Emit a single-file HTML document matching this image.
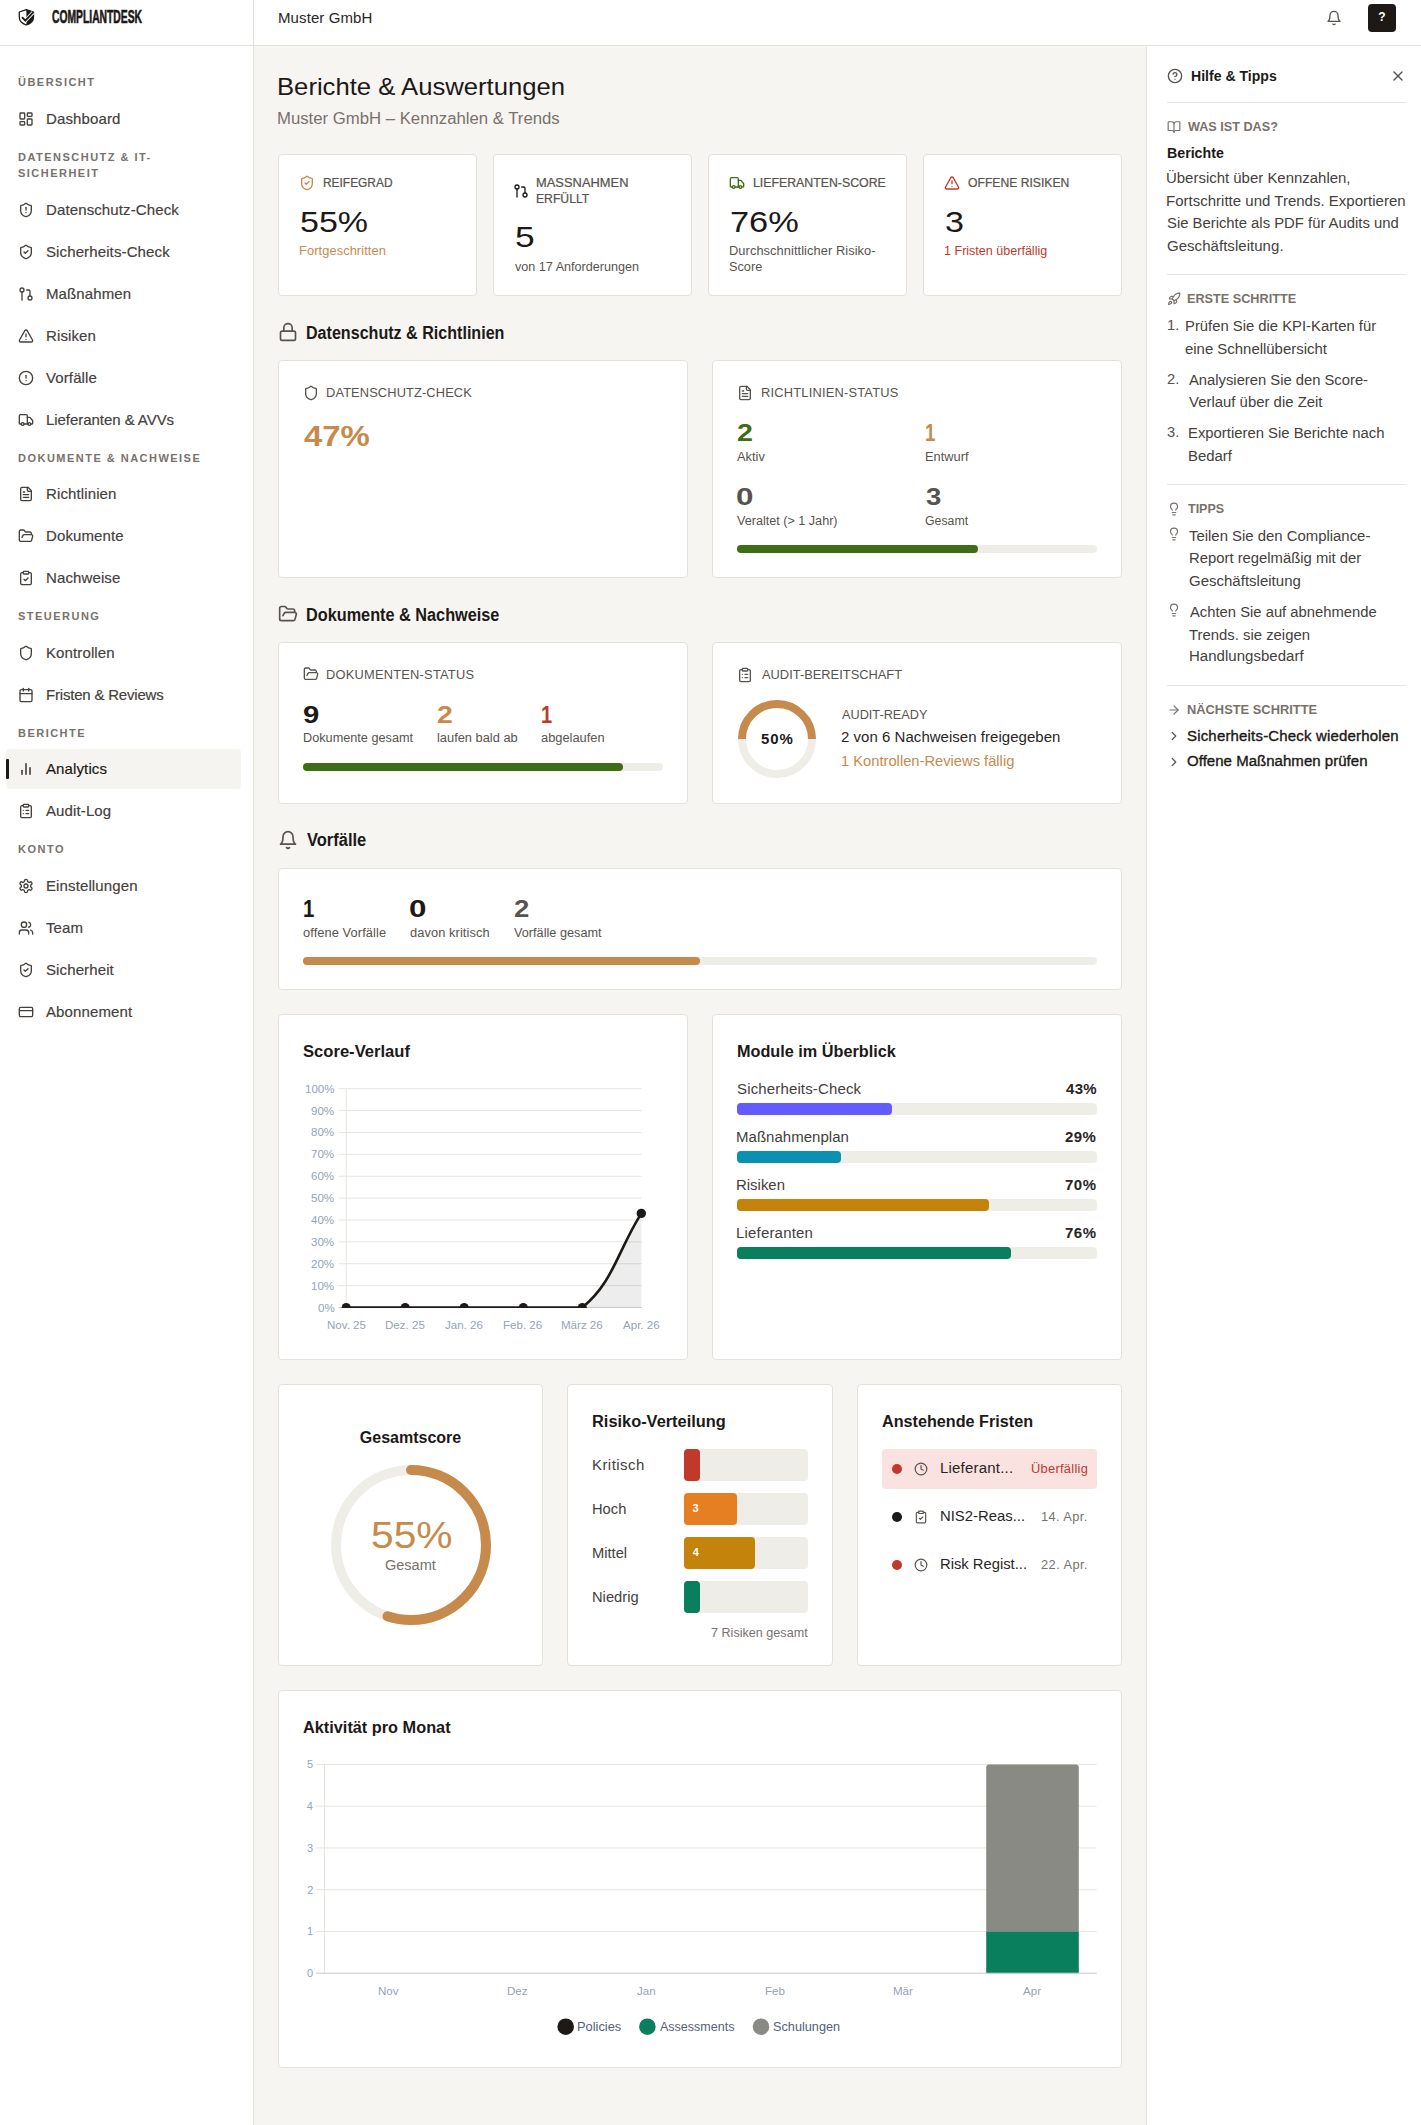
<!DOCTYPE html>
<html lang="de">
<head>
<meta charset="utf-8">
<title>Berichte &amp; Auswertungen – CompliantDesk</title>
<style>
*{box-sizing:border-box;margin:0;padding:0}
html,body{width:1421px;height:2125px;overflow:hidden;background:#fff}
body{font-family:"Liberation Sans",sans-serif;color:#1c1917;position:relative;-webkit-font-smoothing:antialiased}
svg{display:block}
.ico{fill:none;stroke:currentColor;stroke-width:2;stroke-linecap:round;stroke-linejoin:round}
.abs{position:absolute}
.t{position:absolute;white-space:nowrap;display:block;transform-origin:0 0}
/* sidebar */
#sidebar{position:absolute;left:0;top:0;width:254px;height:2125px;background:#fff;border-right:1px solid #e4e1db}
#brand{position:absolute;left:0;top:0;width:253px;height:46px;border-bottom:1px solid #e4e1db}
#brand svg{position:absolute;left:16px;top:7px}
#brand .name{position:absolute;left:52px;top:7px;font-weight:700;font-size:17.5px;line-height:20px;letter-spacing:0;color:#1c1917;transform:scaleX(.59);-webkit-text-stroke:.6px #1c1917;transform-origin:0 50%;white-space:nowrap}
.slabel{position:absolute;left:18px;width:220px;font-size:11px;line-height:16px;font-weight:700;letter-spacing:1.48px;color:#78716c;text-transform:uppercase}
.nav{position:absolute;left:6px;width:235px;height:40px;border-radius:4px;color:#44403c;font-size:15px}
.nav svg{position:absolute;left:12px;top:12px;width:16px;height:16px}
.nav span{position:absolute;left:40px;top:0;line-height:40px;white-space:nowrap;letter-spacing:.12px;-webkit-text-stroke:.18px currentColor}
.nav.active{background:#f6f4f0;color:#1c1917}
.nav.active:before{content:"";position:absolute;left:0;top:10px;width:3px;height:20px;background:#1c1917;border-radius:1px}
/* topbar */
#topbar{position:absolute;left:254px;top:0;width:1167px;height:46px;background:#fff;border-bottom:1px solid #e4e1db}
#topbar .org{position:absolute;left:24px;top:0;line-height:35px;font-size:15px;color:#292524;letter-spacing:.1px}
#topbar .bell{position:absolute;left:1072px;top:10px;width:16px;height:16px;color:#57534e}
#topbar .qbtn{position:absolute;left:1114px;top:4px;width:28px;height:28px;border-radius:4px;background:#1c1917;color:#fff;font-size:12px;font-weight:700;text-align:center;line-height:27px}
/* main */
#main{position:absolute;left:254px;top:46px;width:892px;height:2079px;background:#f7f5f2}
#help{position:absolute;left:1146px;top:46px;width:275px;height:2079px;background:#fff;border-left:1px solid #e4e1db}
.card{position:absolute;background:#fff;border:1px solid #e4e1db;border-radius:4px}
</style>
</head>
<body>
<div id="sidebar">
  <div id="brand">
    <svg width="20" height="20" viewBox="0 0 20 20"><path d="M10.400 2.700 3.300 5v5.300c0 3.900 2.900 6.400 7.100 7.700 4.200-1.300 7.100-3.800 7.100-7.700V5z" fill="#fff" stroke="#1c1917" stroke-width="1.300" stroke-linejoin="round"/><path d="M10.400 2.700V18c4.200-1.300 7.100-3.800 7.100-7.700V5z" fill="#1c1917"/><path d="m6 10.200 3.300 3.500 7.800-8.300" fill="none" stroke="#fff" stroke-width="3.600"/><path d="m6 10.200 3.300 3.500 7.800-8.300" fill="none" stroke="#1c1917" stroke-width="1.900"/></svg>
    <div class="name">COMPLIANTDESK</div>
  </div>
  <div class="slabel" style="top:74px">Übersicht</div>
  <div class="nav" style="top:99px"><svg class="ico" viewBox="0 0 24 24"><rect width="7" height="9" x="3" y="3" rx="1"/><rect width="7" height="5" x="14" y="3" rx="1"/><rect width="7" height="9" x="14" y="12" rx="1"/><rect width="7" height="5" x="3" y="16" rx="1"/></svg><span>Dashboard</span></div>
  <div class="slabel" style="top:149px">Datenschutz &amp; IT-<br>Sicherheit</div>
  <div class="nav" style="top:190px"><svg class="ico" viewBox="0 0 24 24"><path d="M20 13c0 5-3.500 7.500-7.660 8.950a1 1 0 0 1-.67-.01C7.500 20.500 4 18 4 13V6a1 1 0 0 1 1-1c2 0 4.500-1.200 6.240-2.720a1.170 1.170 0 0 1 1.520 0C14.510 3.810 17 5 19 5a1 1 0 0 1 1 1z"/><path d="M12 8v4"/><path d="M12 16h.01"/></svg><span>Datenschutz-Check</span></div>
  <div class="nav" style="top:232px"><svg class="ico" viewBox="0 0 24 24"><path d="M20 13c0 5-3.500 7.500-7.660 8.950a1 1 0 0 1-.67-.01C7.500 20.500 4 18 4 13V6a1 1 0 0 1 1-1c2 0 4.500-1.200 6.240-2.720a1.170 1.170 0 0 1 1.520 0C14.510 3.810 17 5 19 5a1 1 0 0 1 1 1z"/><path d="m9 12 2 2 4-4"/></svg><span>Sicherheits-Check</span></div>
  <div class="nav" style="top:274px"><svg class="ico" viewBox="0 0 24 24"><circle cx="18" cy="18" r="3"/><circle cx="6" cy="6" r="3"/><path d="M13 6h3a2 2 0 0 1 2 2v7"/><line x1="6" x2="6" y1="9" y2="21"/></svg><span>Maßnahmen</span></div>
  <div class="nav" style="top:316px"><svg class="ico" viewBox="0 0 24 24"><path d="m21.730 18-8-14a2 2 0 0 0-3.480 0l-8 14A2 2 0 0 0 4 21h16a2 2 0 0 0 1.730-3"/><path d="M12 9v4"/><path d="M12 17h.01"/></svg><span>Risiken</span></div>
  <div class="nav" style="top:358px"><svg class="ico" viewBox="0 0 24 24"><circle cx="12" cy="12" r="10"/><line x1="12" x2="12" y1="8" y2="12"/><line x1="12" x2="12.010" y1="16" y2="16"/></svg><span>Vorfälle</span></div>
  <div class="nav" style="top:400px"><svg class="ico" viewBox="0 0 24 24"><path d="M14 18V6a2 2 0 0 0-2-2H4a2 2 0 0 0-2 2v11a1 1 0 0 0 1 1h2"/><path d="M15 18H9"/><path d="M19 18h2a1 1 0 0 0 1-1v-3.650a1 1 0 0 0-.22-.624l-3.480-4.350A1 1 0 0 0 17.520 8H14"/><circle cx="17" cy="18" r="2"/><circle cx="7" cy="18" r="2"/></svg><span style="letter-spacing:-.05px">Lieferanten &amp; AVVs</span></div>
  <div class="slabel" style="top:450px">Dokumente &amp; Nachweise</div>
  <div class="nav" style="top:474px"><svg class="ico" viewBox="0 0 24 24"><path d="M15 2H6a2 2 0 0 0-2 2v16a2 2 0 0 0 2 2h12a2 2 0 0 0 2-2V7Z"/><path d="M14 2v4a2 2 0 0 0 2 2h4"/><path d="M10 9H8"/><path d="M16 13H8"/><path d="M16 17H8"/></svg><span>Richtlinien</span></div>
  <div class="nav" style="top:516px"><svg class="ico" viewBox="0 0 24 24"><path d="m6 14 1.500-2.900A2 2 0 0 1 9.240 10H20a2 2 0 0 1 1.940 2.500l-1.540 6a2 2 0 0 1-1.950 1.500H4a2 2 0 0 1-2-2V5a2 2 0 0 1 2-2h3.900a2 2 0 0 1 1.690.9l.810 1.200a2 2 0 0 0 1.670.9H18a2 2 0 0 1 2 2v2"/></svg><span>Dokumente</span></div>
  <div class="nav" style="top:558px"><svg class="ico" viewBox="0 0 24 24"><rect width="8" height="4" x="8" y="2" rx="1" ry="1"/><path d="M16 4h2a2 2 0 0 1 2 2v14a2 2 0 0 1-2 2H6a2 2 0 0 1-2-2V6a2 2 0 0 1 2-2h2"/><path d="m9 14 2 2 4-4"/></svg><span>Nachweise</span></div>
  <div class="slabel" style="top:608px">Steuerung</div>
  <div class="nav" style="top:633px"><svg class="ico" viewBox="0 0 24 24"><path d="M20 13c0 5-3.500 7.500-7.660 8.950a1 1 0 0 1-.67-.01C7.500 20.500 4 18 4 13V6a1 1 0 0 1 1-1c2 0 4.500-1.200 6.240-2.720a1.170 1.170 0 0 1 1.520 0C14.510 3.810 17 5 19 5a1 1 0 0 1 1 1z"/></svg><span>Kontrollen</span></div>
  <div class="nav" style="top:675px"><svg class="ico" viewBox="0 0 24 24"><path d="M8 2v4"/><path d="M16 2v4"/><rect width="18" height="18" x="3" y="4" rx="2"/><path d="M3 10h18"/></svg><span style="letter-spacing:-.2px">Fristen &amp; Reviews</span></div>
  <div class="slabel" style="top:725px">Berichte</div>
  <div class="nav active" style="top:749px"><svg class="ico" viewBox="0 0 24 24"><line x1="18" x2="18" y1="20" y2="10"/><line x1="12" x2="12" y1="20" y2="4"/><line x1="6" x2="6" y1="20" y2="14"/></svg><span>Analytics</span></div>
  <div class="nav" style="top:791px"><svg class="ico" viewBox="0 0 24 24"><rect width="8" height="4" x="8" y="2" rx="1" ry="1"/><path d="M16 4h2a2 2 0 0 1 2 2v14a2 2 0 0 1-2 2H6a2 2 0 0 1-2-2V6a2 2 0 0 1 2-2h2"/><path d="M12 11h4"/><path d="M12 16h4"/><path d="M8 11h.01"/><path d="M8 16h.01"/></svg><span>Audit-Log</span></div>
  <div class="slabel" style="top:841px">Konto</div>
  <div class="nav" style="top:866px"><svg class="ico" viewBox="0 0 24 24"><path d="M12.220 2h-.44a2 2 0 0 0-2 2v.18a2 2 0 0 1-1 1.730l-.43.250a2 2 0 0 1-2 0l-.15-.08a2 2 0 0 0-2.730.730l-.22.380a2 2 0 0 0 .73 2.730l.15.100a2 2 0 0 1 1 1.720v.510a2 2 0 0 1-1 1.740l-.15.090a2 2 0 0 0-.73 2.730l.22.380a2 2 0 0 0 2.730.730l.15-.08a2 2 0 0 1 2 0l.43.250a2 2 0 0 1 1 1.730V20a2 2 0 0 0 2 2h.44a2 2 0 0 0 2-2v-.18a2 2 0 0 1 1-1.730l.43-.250a2 2 0 0 1 2 0l.15.080a2 2 0 0 0 2.730-.730l.22-.390a2 2 0 0 0-.73-2.730l-.15-.080a2 2 0 0 1-1-1.740v-.5a2 2 0 0 1 1-1.740l.15-.090a2 2 0 0 0 .73-2.730l-.22-.380a2 2 0 0 0-2.730-.730l-.15.080a2 2 0 0 1-2 0l-.43-.250a2 2 0 0 1-1-1.730V4a2 2 0 0 0-2-2z"/><circle cx="12" cy="12" r="3"/></svg><span>Einstellungen</span></div>
  <div class="nav" style="top:908px"><svg class="ico" viewBox="0 0 24 24"><path d="M16 21v-2a4 4 0 0 0-4-4H6a4 4 0 0 0-4 4v2"/><circle cx="9" cy="7" r="4"/><path d="M22 21v-2a4 4 0 0 0-3-3.870"/><path d="M16 3.130a4 4 0 0 1 0 7.750"/></svg><span>Team</span></div>
  <div class="nav" style="top:950px"><svg class="ico" viewBox="0 0 24 24"><path d="M20 13c0 5-3.500 7.500-7.660 8.950a1 1 0 0 1-.67-.01C7.500 20.500 4 18 4 13V6a1 1 0 0 1 1-1c2 0 4.500-1.200 6.240-2.720a1.170 1.170 0 0 1 1.520 0C14.510 3.810 17 5 19 5a1 1 0 0 1 1 1z"/><path d="m9 12 2 2 4-4"/></svg><span>Sicherheit</span></div>
  <div class="nav" style="top:992px"><svg class="ico" viewBox="0 0 24 24"><rect width="20" height="14" x="2" y="5" rx="2"/><line x1="2" x2="22" y1="10" y2="10"/></svg><span>Abonnement</span></div>
</div>
<div id="topbar">
  <div class="org">Muster GmbH</div>
  <svg class="ico bell" viewBox="0 0 24 24" stroke-width="1.600"><path d="M6 8a6 6 0 0 1 12 0c0 7 3 9 3 9H3s3-2 3-9"/><path d="M10.300 21a1.940 1.940 0 0 0 3.400 0"/></svg>
  <div class="qbtn">?</div>
</div>
<div id="main">
<span class="t" style="left:22.55px;top:26.80px;font-size:24px;line-height:27px;color:#1c1917;transform:scaleX(1.0690);">Berichte &amp; Auswertungen</span>
<span class="t" style="left:23.26px;top:64.20px;font-size:16px;line-height:17px;color:#78716c;transform:scaleX(1.0455);">Muster GmbH – Kennzahlen &amp; Trends</span>
<div class="card" style="left:24px;top:108px;width:199px;height:142px"><svg class="ico abs" style="left:20px;top:20px;color:#c68a4c" width="16" height="16" viewBox="0 0 24 24" stroke-width="2"><path d="M20 13c0 5-3.500 7.500-7.660 8.950a1 1 0 0 1-.67-.01C7.500 20.500 4 18 4 13V6a1 1 0 0 1 1-1c2 0 4.500-1.200 6.240-2.720a1.170 1.170 0 0 1 1.520 0C14.510 3.810 17 5 19 5a1 1 0 0 1 1 1z"/><path d="m9 12 2 2 4-4"/></svg><span class="t" style="left:43.65px;top:20.80px;font-size:12px;line-height:14px;color:#57534e;transform:scaleX(0.9933);-webkit-text-stroke:.22px #57534e">REIFEGRAD</span><span class="t" style="left:21.44px;top:49.80px;font-size:30px;line-height:33px;color:#1c1917;transform:scaleX(1.1325);">55%</span><span class="t" style="left:19.97px;top:88.60px;font-size:12px;line-height:14px;color:#c68a4c;letter-spacing:0.081px;transform:scaleX(1.0700);">Fortgeschritten</span></div>
<div class="card" style="left:239px;top:108px;width:199px;height:142px"><svg class="ico abs" style="left:19px;top:28px;color:#1c1917" width="16" height="16" viewBox="0 0 24 24" stroke-width="2"><circle cx="18" cy="18" r="3"/><circle cx="6" cy="6" r="3"/><path d="M13 6h3a2 2 0 0 1 2 2v7"/><line x1="6" x2="6" y1="9" y2="21"/></svg><span class="t" style="left:42.17px;top:20.80px;font-size:12px;line-height:14px;color:#57534e;letter-spacing:0.047px;transform:scaleX(1.0700);-webkit-text-stroke:.22px #57534e">MASSNAHMEN</span><span class="t" style="left:42.23px;top:36.70px;font-size:12px;line-height:14px;color:#57534e;transform:scaleX(1.0148);-webkit-text-stroke:.22px #57534e">ERFÜLLT</span><span class="t" style="left:21.39px;top:65.30px;font-size:30px;line-height:33px;color:#1c1917;transform:scaleX(1.1789);">5</span><span class="t" style="left:20.74px;top:104.60px;font-size:12px;line-height:14px;color:#57534e;transform:scaleX(1.0500);">von 17 Anforderungen</span></div>
<div class="card" style="left:454px;top:108px;width:199px;height:142px"><svg class="ico abs" style="left:20px;top:20px;color:#3e6d16" width="16" height="16" viewBox="0 0 24 24" stroke-width="2"><path d="M14 18V6a2 2 0 0 0-2-2H4a2 2 0 0 0-2 2v11a1 1 0 0 0 1 1h2"/><path d="M15 18H9"/><path d="M19 18h2a1 1 0 0 0 1-1v-3.650a1 1 0 0 0-.22-.624l-3.480-4.350A1 1 0 0 0 17.520 8H14"/><circle cx="17" cy="18" r="2"/><circle cx="7" cy="18" r="2"/></svg><span class="t" style="left:43.61px;top:20.80px;font-size:12px;line-height:14px;color:#57534e;transform:scaleX(1.0264);-webkit-text-stroke:.22px #57534e">LIEFERANTEN-SCORE</span><span class="t" style="left:20.68px;top:49.80px;font-size:30px;line-height:33px;color:#1c1917;transform:scaleX(1.1453);">76%</span><span class="t" style="left:19.57px;top:88.60px;font-size:12px;line-height:14px;color:#57534e;letter-spacing:0.064px;transform:scaleX(1.0700);">Durchschnittlicher Risiko-</span><span class="t" style="left:20.03px;top:104.60px;font-size:12px;line-height:14px;color:#57534e;transform:scaleX(1.0594);">Score</span></div>
<div class="card" style="left:669px;top:108px;width:199px;height:142px"><svg class="ico abs" style="left:20px;top:20px;color:#c0392b" width="16" height="16" viewBox="0 0 24 24" stroke-width="2"><path d="m21.730 18-8-14a2 2 0 0 0-3.480 0l-8 14A2 2 0 0 0 4 21h16a2 2 0 0 0 1.730-3"/><path d="M12 9v4"/><path d="M12 17h.01"/></svg><span class="t" style="left:43.85px;top:20.80px;font-size:12px;line-height:14px;color:#57534e;transform:scaleX(1.0130);-webkit-text-stroke:.22px #57534e">OFFENE RISIKEN</span><span class="t" style="left:21.44px;top:49.80px;font-size:30px;line-height:33px;color:#1c1917;transform:scaleX(1.1368);">3</span><span class="t" style="left:20.26px;top:88.60px;font-size:12px;line-height:14px;color:#bd3b2c;transform:scaleX(1.0455);">1 Fristen überfällig</span></div>
<svg class="ico abs" style="left:24px;top:276px;color:#57534e" width="20" height="20" viewBox="0 0 24 24" stroke-width="1.5"><rect width="18" height="11" x="3" y="11" rx="2" ry="2"/><path d="M7 11V7a5 5 0 0 1 10 0v4"/></svg>
<span class="t" style="left:51.55px;top:276.60px;font-size:17.5px;line-height:20px;color:#1c1917;font-weight:700;transform:scaleX(0.9192);">Datenschutz &amp; Richtlinien</span>
<div class="card" style="left:24px;top:314px;width:410px;height:218px"><svg class="ico abs" style="left:24px;top:24px;color:#57534e" width="16" height="16" viewBox="0 0 24 24" stroke-width="2"><path d="M20 13c0 5-3.500 7.500-7.660 8.950a1 1 0 0 1-.67-.01C7.500 20.500 4 18 4 13V6a1 1 0 0 1 1-1c2 0 4.500-1.200 6.240-2.720a1.170 1.170 0 0 1 1.520 0C14.510 3.810 17 5 19 5a1 1 0 0 1 1 1z"/></svg><span class="t" style="left:47.47px;top:24.70px;font-size:12px;line-height:14px;color:#57534e;letter-spacing:0.114px;transform:scaleX(1.0700);">DATENSCHUTZ-CHECK</span><span class="t" style="left:24.81px;top:57.90px;font-size:30px;line-height:33px;color:#c68a4c;font-weight:700;transform:scaleX(1.0969);">47%</span></div>
<div class="card" style="left:458px;top:314px;width:410px;height:218px"><svg class="ico abs" style="left:24px;top:24px;color:#57534e" width="16" height="16" viewBox="0 0 24 24" stroke-width="2"><path d="M15 2H6a2 2 0 0 0-2 2v16a2 2 0 0 0 2 2h12a2 2 0 0 0 2-2V7Z"/><path d="M14 2v4a2 2 0 0 0 2 2h4"/><path d="M10 9H8"/><path d="M16 13H8"/><path d="M16 17H8"/></svg><span class="t" style="left:47.67px;top:24.70px;font-size:12px;line-height:14px;color:#57534e;letter-spacing:0.198px;transform:scaleX(1.0700);">RICHTLINIEN-STATUS</span><span class="t" style="left:23.60px;top:57.60px;font-size:24px;line-height:27px;color:#3e6d16;font-weight:700;transform:scaleX(1.1892);">2</span><span class="t" style="left:24.30px;top:88.70px;font-size:12px;line-height:14px;color:#57534e;transform:scaleX(1.0687);">Aktiv</span><span class="t" style="left:212.48px;top:57.60px;font-size:24px;line-height:27px;color:#c68a4c;font-weight:700;transform:scaleX(0.7801);">1</span><span class="t" style="left:212.17px;top:88.70px;font-size:12px;line-height:14px;color:#57534e;transform:scaleX(1.0700);">Entwurf</span><span class="t" style="left:23.35px;top:121.60px;font-size:24px;line-height:27px;color:#57534e;font-weight:700;transform:scaleX(1.3070);">0</span><span class="t" style="left:24.24px;top:152.80px;font-size:12px;line-height:14px;color:#57534e;transform:scaleX(1.0504);">Veraltet (&gt; 1 Jahr)</span><span class="t" style="left:212.71px;top:121.60px;font-size:24px;line-height:27px;color:#57534e;font-weight:700;transform:scaleX(1.1448);">3</span><span class="t" style="left:211.98px;top:152.80px;font-size:12px;line-height:14px;color:#57534e;transform:scaleX(1.0256);">Gesamt</span><div class="abs" style="left:24px;top:184px;width:360px;height:8px;background:#efede8;border-radius:4.0px"><div style="width:241px;height:8px;background:#3e6d16;border-radius:4.0px"></div></div></div>
<svg class="ico abs" style="left:24px;top:558px;color:#57534e" width="20" height="20" viewBox="0 0 24 24" stroke-width="1.5"><path d="m6 14 1.500-2.900A2 2 0 0 1 9.240 10H20a2 2 0 0 1 1.940 2.500l-1.540 6a2 2 0 0 1-1.950 1.500H4a2 2 0 0 1-2-2V5a2 2 0 0 1 2-2h3.900a2 2 0 0 1 1.690.9l.810 1.200a2 2 0 0 0 1.670.9H18a2 2 0 0 1 2 2v2"/></svg>
<span class="t" style="left:51.54px;top:558.60px;font-size:17.5px;line-height:20px;color:#1c1917;font-weight:700;transform:scaleX(0.9292);">Dokumente &amp; Nachweise</span>
<div class="card" style="left:24px;top:596px;width:410px;height:162px"><svg class="ico abs" style="left:24px;top:23px;color:#57534e" width="16" height="16" viewBox="0 0 24 24" stroke-width="2"><path d="m6 14 1.500-2.900A2 2 0 0 1 9.240 10H20a2 2 0 0 1 1.940 2.500l-1.540 6a2 2 0 0 1-1.950 1.500H4a2 2 0 0 1-2-2V5a2 2 0 0 1 2-2h3.900a2 2 0 0 1 1.690.9l.810 1.200a2 2 0 0 0 1.670.9H18a2 2 0 0 1 2 2v2"/></svg><span class="t" style="left:47.47px;top:24.70px;font-size:12px;line-height:14px;color:#57534e;letter-spacing:0.215px;transform:scaleX(1.0700);">DOKUMENTEN-STATUS</span><span class="t" style="left:23.58px;top:57.60px;font-size:24px;line-height:27px;color:#1c1917;font-weight:700;transform:scaleX(1.2199);">9</span><span class="t" style="left:23.78px;top:88.40px;font-size:12px;line-height:14px;color:#57534e;transform:scaleX(1.0580);">Dokumente gesamt</span><span class="t" style="left:158.01px;top:57.60px;font-size:24px;line-height:27px;color:#c68a4c;font-weight:700;transform:scaleX(1.1806);">2</span><span class="t" style="left:158.07px;top:88.40px;font-size:12px;line-height:14px;color:#57534e;transform:scaleX(1.0700);">laufen bald ab</span><span class="t" style="left:262.40px;top:57.60px;font-size:24px;line-height:27px;color:#bd3b2c;font-weight:700;transform:scaleX(0.8333);">1</span><span class="t" style="left:262.49px;top:88.40px;font-size:12px;line-height:14px;color:#57534e;letter-spacing:0.009px;transform:scaleX(1.0700);">abgelaufen</span><div class="abs" style="left:24px;top:120px;width:360px;height:8px;background:#efede8;border-radius:4.0px"><div style="width:320px;height:8px;background:#3e6d16;border-radius:4.0px"></div></div></div>
<div class="card" style="left:458px;top:596px;width:410px;height:162px"><svg class="ico abs" style="left:24px;top:24px;color:#57534e" width="16" height="16" viewBox="0 0 24 24" stroke-width="2"><rect width="8" height="4" x="8" y="2" rx="1" ry="1"/><path d="M16 4h2a2 2 0 0 1 2 2v14a2 2 0 0 1-2 2H6a2 2 0 0 1-2-2V6a2 2 0 0 1 2-2h2"/><path d="M12 11h4"/><path d="M12 16h4"/><path d="M8 11h.01"/><path d="M8 16h.01"/></svg><span class="t" style="left:48.70px;top:24.70px;font-size:12px;line-height:14px;color:#57534e;letter-spacing:0.013px;transform:scaleX(1.0700);">AUDIT-BEREITSCHAFT</span><svg class="abs" style="left:24px;top:56px" width="80" height="80" viewBox="0 0 80 80"><circle cx="40" cy="40" r="35" fill="none" stroke="#efede8" stroke-width="8"/><path d="M5 40A35 35 0 0 1 75 40" fill="none" stroke="#c68a4c" stroke-width="8"/></svg><span class="t" style="left:47.95px;top:87.90px;font-size:14px;line-height:16px;color:#1c1917;font-weight:700;letter-spacing:0.824px;transform:scaleX(1.0700);">50%</span><span class="t" style="left:128.80px;top:65.00px;font-size:12px;line-height:14px;color:#57534e;transform:scaleX(1.0585);">AUDIT-READY</span><span class="t" style="left:127.85px;top:86.00px;font-size:14px;line-height:16px;color:#292524;letter-spacing:0.037px;transform:scaleX(1.0700);">2 von 6 Nachweisen freigegeben</span><span class="t" style="left:128.10px;top:110.20px;font-size:14px;line-height:16px;color:#c68a4c;transform:scaleX(1.0507);">1 Kontrollen-Reviews fällig</span></div>
<svg class="ico abs" style="left:24px;top:784px;color:#57534e" width="20" height="20" viewBox="0 0 24 24" stroke-width="1.5"><path d="M6 8a6 6 0 0 1 12 0c0 7 3 9 3 9H3s3-2 3-9"/><path d="M10.300 21a1.940 1.940 0 0 0 3.400 0"/></svg>
<span class="t" style="left:52.82px;top:784.30px;font-size:17.5px;line-height:20px;color:#1c1917;font-weight:700;transform:scaleX(0.9422);">Vorfälle</span>
<div class="card" style="left:24px;top:822px;width:844px;height:122px"><span class="t" style="left:23.77px;top:26.00px;font-size:24px;line-height:27px;color:#1c1917;font-weight:700;transform:scaleX(0.8511);">1</span><span class="t" style="left:24.09px;top:57.00px;font-size:12px;line-height:14px;color:#57534e;letter-spacing:0.078px;transform:scaleX(1.0700);">offene Vorfälle</span><span class="t" style="left:130.35px;top:26.00px;font-size:24px;line-height:27px;color:#1c1917;font-weight:700;transform:scaleX(1.3070);">0</span><span class="t" style="left:131.29px;top:57.00px;font-size:12px;line-height:14px;color:#57534e;letter-spacing:0.074px;transform:scaleX(1.0700);">davon kritisch</span><span class="t" style="left:234.64px;top:26.00px;font-size:24px;line-height:27px;color:#57534e;font-weight:700;transform:scaleX(1.1458);">2</span><span class="t" style="left:235.14px;top:57.00px;font-size:12px;line-height:14px;color:#57534e;transform:scaleX(1.0586);">Vorfälle gesamt</span><div class="abs" style="left:24px;top:88px;width:794px;height:8px;background:#efede8;border-radius:4.0px"><div style="width:397px;height:8px;background:#c68a4c;border-radius:4.0px"></div></div></div>
<div class="card" style="left:24px;top:968px;width:410px;height:346px"><span class="t" style="left:24.10px;top:28.00px;font-size:16px;line-height:17px;color:#1c1917;font-weight:700;transform:scaleX(1.0368);">Score-Verlauf</span><svg class="abs" style="left:0;top:0" width="408" height="344" viewBox="279 1015 408 344"><line x1="338.7" x2="641.5" y1="1307.50" y2="1307.50" stroke="#e7e5df" stroke-width="1"/><line x1="338.7" x2="641.5" y1="1285.62" y2="1285.62" stroke="#e7e5df" stroke-width="1"/><line x1="338.7" x2="641.5" y1="1263.74" y2="1263.74" stroke="#e7e5df" stroke-width="1"/><line x1="338.7" x2="641.5" y1="1241.86" y2="1241.86" stroke="#e7e5df" stroke-width="1"/><line x1="338.7" x2="641.5" y1="1219.98" y2="1219.98" stroke="#e7e5df" stroke-width="1"/><line x1="338.7" x2="641.5" y1="1198.10" y2="1198.10" stroke="#e7e5df" stroke-width="1"/><line x1="338.7" x2="641.5" y1="1176.22" y2="1176.22" stroke="#e7e5df" stroke-width="1"/><line x1="338.7" x2="641.5" y1="1154.34" y2="1154.34" stroke="#e7e5df" stroke-width="1"/><line x1="338.7" x2="641.5" y1="1132.46" y2="1132.46" stroke="#e7e5df" stroke-width="1"/><line x1="338.7" x2="641.5" y1="1110.58" y2="1110.58" stroke="#e7e5df" stroke-width="1"/><line x1="338.7" x2="641.5" y1="1088.70" y2="1088.70" stroke="#e7e5df" stroke-width="1"/><line x1="346.2" x2="346.2" y1="1088.7" y2="1307.5" stroke="#e7e5df" stroke-width="1"/><path d="M582.3 1307.5C612.9 1282.9 617.6 1251 641.3 1213.4V1307.5Z" fill="#1c1917" fill-opacity=".08"/><line x1="338.7" x2="641.5" y1="1307.5" y2="1307.5" stroke="#c9c7c2" stroke-width="1"/><clipPath id="cp1"><rect x="330" y="1080" width="330" height="228.1"/></clipPath><g clip-path="url(#cp1)"><path d="M346.2 1307.5H582.3C612.9 1282.9 617.6 1251 641.3 1213.4" fill="none" stroke="#1c1917" stroke-width="2.600" stroke-linecap="round"/><circle cx="346.2" cy="1307.5" r="4.500" fill="#1c1917"/><circle cx="405.2" cy="1307.5" r="4.500" fill="#1c1917"/><circle cx="464.2" cy="1307.5" r="4.500" fill="#1c1917"/><circle cx="523.3" cy="1307.5" r="4.500" fill="#1c1917"/><circle cx="582.3" cy="1307.5" r="4.500" fill="#1c1917"/></g><circle cx="641.3" cy="1213.4" r="4.700" fill="#1c1917"/></svg><span class="t" style="left:38.81px;top:286.50px;font-size:11px;line-height:12px;color:#94a3b8;transform:scaleX(1.0500);">0%</span><span class="t" style="left:32.40px;top:264.62px;font-size:11px;line-height:12px;color:#94a3b8;transform:scaleX(1.0500);">10%</span><span class="t" style="left:32.40px;top:242.74px;font-size:11px;line-height:12px;color:#94a3b8;transform:scaleX(1.0500);">20%</span><span class="t" style="left:32.40px;top:220.86px;font-size:11px;line-height:12px;color:#94a3b8;transform:scaleX(1.0500);">30%</span><span class="t" style="left:32.40px;top:198.98px;font-size:11px;line-height:12px;color:#94a3b8;transform:scaleX(1.0500);">40%</span><span class="t" style="left:32.40px;top:177.10px;font-size:11px;line-height:12px;color:#94a3b8;transform:scaleX(1.0500);">50%</span><span class="t" style="left:32.40px;top:155.22px;font-size:11px;line-height:12px;color:#94a3b8;transform:scaleX(1.0500);">60%</span><span class="t" style="left:32.40px;top:133.34px;font-size:11px;line-height:12px;color:#94a3b8;transform:scaleX(1.0500);">70%</span><span class="t" style="left:32.40px;top:111.46px;font-size:11px;line-height:12px;color:#94a3b8;transform:scaleX(1.0500);">80%</span><span class="t" style="left:32.40px;top:89.58px;font-size:11px;line-height:12px;color:#94a3b8;transform:scaleX(1.0500);">90%</span><span class="t" style="left:25.94px;top:67.70px;font-size:11px;line-height:12px;color:#94a3b8;transform:scaleX(1.0500);">100%</span><span class="t" style="left:47.51px;top:303.70px;font-size:11px;line-height:12px;color:#94a3b8;transform:scaleX(1.0500);">Nov. 25</span><span class="t" style="left:106.09px;top:303.70px;font-size:11px;line-height:12px;color:#94a3b8;transform:scaleX(1.0500);">Dez. 25</span><span class="t" style="left:166.44px;top:303.70px;font-size:11px;line-height:12px;color:#94a3b8;transform:scaleX(1.0500);">Jan. 26</span><span class="t" style="left:224.45px;top:303.70px;font-size:11px;line-height:12px;color:#94a3b8;transform:scaleX(1.0500);">Feb. 26</span><span class="t" style="left:282.20px;top:303.70px;font-size:11px;line-height:12px;color:#94a3b8;transform:scaleX(1.0500);">März 26</span><span class="t" style="left:344.22px;top:303.70px;font-size:11px;line-height:12px;color:#94a3b8;transform:scaleX(1.0500);">Apr. 26</span></div>
<div class="card" style="left:458px;top:968px;width:410px;height:346px"><span class="t" style="left:23.74px;top:28.00px;font-size:16px;line-height:17px;color:#1c1917;font-weight:700;transform:scaleX(1.0145);">Module im Überblick</span><span class="t" style="left:23.93px;top:65.70px;font-size:14px;line-height:16px;color:#44403c;letter-spacing:0.147px;transform:scaleX(1.0700);">Sicherheits-Check</span><span class="t" style="left:352.58px;top:65.70px;font-size:14px;line-height:16px;color:#292524;font-weight:700;letter-spacing:0.299px;transform:scaleX(1.0700);">43%</span><div class="abs" style="left:24px;top:88px;width:360px;height:12px;background:#efede8;border-radius:4px"><div style="width:155px;height:12px;background:#635bff;border-radius:4px"></div></div><span class="t" style="left:23.40px;top:113.70px;font-size:14px;line-height:16px;color:#44403c;letter-spacing:0.035px;transform:scaleX(1.0700);">Maßnahmenplan</span><span class="t" style="left:352.28px;top:113.70px;font-size:14px;line-height:16px;color:#292524;font-weight:700;letter-spacing:0.439px;transform:scaleX(1.0700);">29%</span><div class="abs" style="left:24px;top:136px;width:360px;height:12px;background:#efede8;border-radius:4px"><div style="width:104.4px;height:12px;background:#0a90b0;border-radius:4px"></div></div><span class="t" style="left:23.41px;top:161.70px;font-size:14px;line-height:16px;color:#44403c;transform:scaleX(1.0663);">Risiken</span><span class="t" style="left:352.20px;top:161.70px;font-size:14px;line-height:16px;color:#292524;font-weight:700;letter-spacing:0.474px;transform:scaleX(1.0700);">70%</span><div class="abs" style="left:24px;top:184px;width:360px;height:12px;background:#efede8;border-radius:4px"><div style="width:252px;height:12px;background:#c4830b;border-radius:4px"></div></div><span class="t" style="left:23.40px;top:209.70px;font-size:14px;line-height:16px;color:#44403c;letter-spacing:0.177px;transform:scaleX(1.0700);">Lieferanten</span><span class="t" style="left:352.20px;top:209.70px;font-size:14px;line-height:16px;color:#292524;font-weight:700;letter-spacing:0.474px;transform:scaleX(1.0700);">76%</span><div class="abs" style="left:24px;top:232px;width:360px;height:12px;background:#efede8;border-radius:4px"><div style="width:273.6px;height:12px;background:#0a7f5e;border-radius:4px"></div></div></div>
<div class="card" style="left:24px;top:1338px;width:265px;height:282px"><span class="t" style="left:80.84px;top:44.10px;font-size:16px;line-height:17px;color:#1c1917;font-weight:700;">Gesamtscore</span><svg class="abs" style="left:47px;top:74.8px" width="170" height="170" viewBox="-85 -85 170 170"><circle r="75" fill="none" stroke="#efede8" stroke-width="10"/><circle r="75" fill="none" stroke="#c68a4c" stroke-width="10" stroke-linecap="round" stroke-dasharray="259.2 471.2" transform="rotate(-90)"/></svg><span class="t" style="left:91.97px;top:129.80px;font-size:36px;line-height:41px;color:#c68a4c;transform:scaleX(1.1313);">55%</span><span class="t" style="left:106.07px;top:171.90px;font-size:14px;line-height:16px;color:#78716c;transform:scaleX(1.0367);">Gesamt</span></div>
<div class="card" style="left:313px;top:1338px;width:266px;height:282px"><span class="t" style="left:23.74px;top:27.50px;font-size:16px;line-height:17px;color:#1c1917;font-weight:700;transform:scaleX(1.0238);">Risiko-Verteilung</span><span class="t" style="left:23.60px;top:71.70px;font-size:14px;line-height:16px;color:#44403c;letter-spacing:0.416px;transform:scaleX(1.0700);">Kritisch</span><div class="abs" style="left:116px;top:64px;width:124px;height:32px;background:#efede8;border-radius:4px"><div style="width:16px;height:32px;background:#c0392b;border-radius:4px"></div></div><span class="t" style="left:23.62px;top:115.70px;font-size:14px;line-height:16px;color:#44403c;transform:scaleX(1.0500);">Hoch</span><div class="abs" style="left:116px;top:108px;width:124px;height:32px;background:#efede8;border-radius:4px"><div style="width:53px;height:32px;background:#e67e22;border-radius:4px"></div></div><span class="t" style="left:124.62px;top:117.40px;font-size:11px;line-height:12px;color:#fff;font-weight:700;">3</span><span class="t" style="left:23.62px;top:159.70px;font-size:14px;line-height:16px;color:#44403c;transform:scaleX(1.0500);">Mittel</span><div class="abs" style="left:116px;top:152px;width:124px;height:32px;background:#efede8;border-radius:4px"><div style="width:71px;height:32px;background:#c4830b;border-radius:4px"></div></div><span class="t" style="left:124.74px;top:161.40px;font-size:11px;line-height:12px;color:#fff;font-weight:700;">4</span><span class="t" style="left:23.62px;top:203.70px;font-size:14px;line-height:16px;color:#44403c;transform:scaleX(1.0500);">Niedrig</span><div class="abs" style="left:116px;top:196px;width:124px;height:32px;background:#efede8;border-radius:4px"><div style="width:16px;height:32px;background:#0a7f5e;border-radius:4px"></div></div><span class="t" style="left:143.08px;top:240.50px;font-size:12px;line-height:14px;color:#78716c;transform:scaleX(1.0500);">7 Risiken gesamt</span></div>
<div class="card" style="left:603px;top:1338px;width:265px;height:282px"><span class="t" style="left:24.00px;top:27.50px;font-size:16px;line-height:17px;color:#1c1917;font-weight:700;transform:scaleX(1.0115);">Anstehende Fristen</span><div class="abs" style="left:24px;top:64px;width:215px;height:40px;background:#f9e2e0;border-radius:4px;"></div><div class="abs" style="left:34px;top:79px;width:10px;height:10px;background:#c0392b;border-radius:5px;"></div><svg class="ico abs" style="left:56px;top:77px;color:#57534e" width="14" height="14" viewBox="0 0 24 24" stroke-width="1.75"><circle cx="12" cy="12" r="10"/><polyline points="12 6 12 12 16 14"/></svg><span class="t" style="left:81.60px;top:75.20px;font-size:14px;line-height:16px;color:#292524;letter-spacing:0.193px;transform:scaleX(1.0700);">Lieferant...</span><span class="t" style="left:172.64px;top:77.00px;font-size:12px;line-height:14px;color:#c0392b;letter-spacing:0.268px;transform:scaleX(1.0700);">Überfällig</span><div class="abs" style="left:34px;top:127px;width:10px;height:10px;background:#1c1917;border-radius:5px;"></div><svg class="ico abs" style="left:56px;top:125px;color:#57534e" width="14" height="14" viewBox="0 0 24 24" stroke-width="1.75"><rect width="8" height="4" x="8" y="2" rx="1" ry="1"/><path d="M16 4h2a2 2 0 0 1 2 2v14a2 2 0 0 1-2 2H6a2 2 0 0 1-2-2V6a2 2 0 0 1 2-2h2"/><path d="m9 14 2 2 4-4"/></svg><span class="t" style="left:81.61px;top:123.20px;font-size:14px;line-height:16px;color:#292524;transform:scaleX(1.0608);">NIS2-Reas...</span><span class="t" style="left:183.44px;top:125.00px;font-size:12px;line-height:14px;color:#78716c;letter-spacing:0.377px;transform:scaleX(1.0700);">14. Apr.</span><div class="abs" style="left:34px;top:175px;width:10px;height:10px;background:#c0392b;border-radius:5px;"></div><svg class="ico abs" style="left:56px;top:173px;color:#57534e" width="14" height="14" viewBox="0 0 24 24" stroke-width="1.75"><circle cx="12" cy="12" r="10"/><polyline points="12 6 12 12 16 14"/></svg><span class="t" style="left:81.62px;top:171.20px;font-size:14px;line-height:16px;color:#292524;transform:scaleX(1.0552);">Risk Regist...</span><span class="t" style="left:183.26px;top:173.00px;font-size:12px;line-height:14px;color:#78716c;letter-spacing:0.401px;transform:scaleX(1.0700);">22. Apr.</span></div>
<div class="card" style="left:24px;top:1644px;width:844px;height:378px"><span class="t" style="left:23.89px;top:28.30px;font-size:16px;line-height:17px;color:#1c1917;font-weight:700;transform:scaleX(1.0186);">Aktivität pro Monat</span><svg class="abs" style="left:0;top:0" width="842" height="376" viewBox="279 1691 842 376"><line x1="316" x2="1096.7" y1="1931.44" y2="1931.44" stroke="#e7e5df" stroke-width="1"/><line x1="316" x2="1096.7" y1="1889.68" y2="1889.68" stroke="#e7e5df" stroke-width="1"/><line x1="316" x2="1096.7" y1="1847.92" y2="1847.92" stroke="#e7e5df" stroke-width="1"/><line x1="316" x2="1096.7" y1="1806.16" y2="1806.16" stroke="#e7e5df" stroke-width="1"/><line x1="316" x2="1096.7" y1="1764.40" y2="1764.40" stroke="#e7e5df" stroke-width="1"/><line x1="324.5" x2="324.5" y1="1764.4" y2="1973.2" stroke="#e7e5df" stroke-width="1"/><path d="M986.2 1931.44V1767.4a3 3 0 0 1 3-3H1075.8a3 3 0 0 1 3 3V1931.44Z" fill="#8a8a85"/><rect x="986.2" y="1931.44" width="92.6" height="41.76" fill="#0a7f5e"/><line x1="316" x2="1096.7" y1="1973.2" y2="1973.2" stroke="#c9c9cc" stroke-width="1"/><circle cx="565.7" cy="2026.7" r="8.300" fill="#1c1917"/><circle cx="647.4" cy="2026.7" r="8.300" fill="#0a7f5e"/><circle cx="761" cy="2026.7" r="8.300" fill="#8a8a85"/></svg><span class="t" style="left:27.98px;top:276.20px;font-size:11px;line-height:12px;color:#94a3b8;">0</span><span class="t" style="left:28.09px;top:234.44px;font-size:11px;line-height:12px;color:#94a3b8;">1</span><span class="t" style="left:28.14px;top:192.68px;font-size:11px;line-height:12px;color:#94a3b8;">2</span><span class="t" style="left:28.03px;top:150.92px;font-size:11px;line-height:12px;color:#94a3b8;">3</span><span class="t" style="left:27.87px;top:109.16px;font-size:11px;line-height:12px;color:#94a3b8;">4</span><span class="t" style="left:28.03px;top:67.40px;font-size:11px;line-height:12px;color:#94a3b8;">5</span><span class="t" style="left:99.14px;top:293.70px;font-size:11px;line-height:12px;color:#94a3b8;transform:scaleX(1.0500);">Nov</span><span class="t" style="left:228.10px;top:293.70px;font-size:11px;line-height:12px;color:#94a3b8;transform:scaleX(1.0500);">Dez</span><span class="t" style="left:358.24px;top:293.70px;font-size:11px;line-height:12px;color:#94a3b8;transform:scaleX(1.0500);">Jan</span><span class="t" style="left:485.79px;top:293.70px;font-size:11px;line-height:12px;color:#94a3b8;transform:scaleX(1.0500);">Feb</span><span class="t" style="left:614.31px;top:293.70px;font-size:11px;line-height:12px;color:#94a3b8;transform:scaleX(1.0500);">Mär</span><span class="t" style="left:744.43px;top:293.70px;font-size:11px;line-height:12px;color:#94a3b8;transform:scaleX(1.0500);">Apr</span><span class="t" style="left:298.27px;top:328.50px;font-size:12px;line-height:14px;color:#55607a;transform:scaleX(1.0686);">Policies</span><span class="t" style="left:381.20px;top:328.50px;font-size:12px;line-height:14px;color:#55607a;transform:scaleX(1.0434);">Assessments</span><span class="t" style="left:494.23px;top:328.50px;font-size:12px;line-height:14px;color:#55607a;transform:scaleX(1.0590);">Schulungen</span></div>
</div>
<div id="help">
<svg class="ico abs" style="left:20px;top:22px;color:#57534e" width="16" height="16" viewBox="0 0 24 24" stroke-width="1.6"><circle cx="12" cy="12" r="10"/><path d="M9.090 9a3 3 0 0 1 5.830 1c0 2-3 3-3 3"/><path d="M12 17h.01"/></svg>
<span class="t" style="left:43.89px;top:22.10px;font-size:14.5px;line-height:16px;color:#1c1917;font-weight:700;transform:scaleX(0.9702);">Hilfe &amp; Tipps</span>
<svg class="ico abs" style="left:243px;top:22px;color:#57534e" width="16" height="16" viewBox="0 0 24 24" stroke-width="1.5"><path d="M18 6 6 18"/><path d="m6 6 12 12"/></svg>
<div class="abs" style="left:20px;top:56px;width:239px;height:1px;background:#e7e5e0;border-radius:0px;"></div>
<svg class="ico abs" style="left:20px;top:74px;color:#78716c" width="14" height="14" viewBox="0 0 24 24" stroke-width="2"><path d="M12 7v14"/><path d="M3 18a1 1 0 0 1-1-1V4a1 1 0 0 1 1-1h5a4 4 0 0 1 4 4 4 4 0 0 1 4-4h5a1 1 0 0 1 1 1v13a1 1 0 0 1-1 1h-6a3 3 0 0 0-3 3 3 3 0 0 0-3-3z"/></svg>
<span class="t" style="left:40.80px;top:73.70px;font-size:12px;line-height:14px;color:#78716c;font-weight:700;transform:scaleX(1.0536);">WAS IST DAS?</span>
<span class="t" style="left:19.68px;top:98.80px;font-size:14px;line-height:16px;color:#1c1917;font-weight:700;transform:scaleX(1.0134);">Berichte</span>
<span class="t" style="left:19.38px;top:123.80px;font-size:14px;line-height:16px;color:#44403c;transform:scaleX(1.0679);">Übersicht über Kennzahlen,</span>
<span class="t" style="left:19.40px;top:146.60px;font-size:14px;line-height:16px;color:#44403c;letter-spacing:0.017px;transform:scaleX(1.0700);">Fortschritte und Trends. Exportieren</span>
<span class="t" style="left:19.83px;top:169.40px;font-size:14px;line-height:16px;color:#44403c;transform:scaleX(1.0598);">Sie Berichte als PDF für Audits und</span>
<span class="t" style="left:19.75px;top:191.80px;font-size:14px;line-height:16px;color:#44403c;letter-spacing:0.047px;transform:scaleX(1.0700);">Geschäftsleitung.</span>
<div class="abs" style="left:20px;top:228px;width:239px;height:1px;background:#e7e5e0;border-radius:0px;"></div>
<svg class="ico abs" style="left:20px;top:246px;color:#78716c" width="14" height="14" viewBox="0 0 24 24" stroke-width="2"><path d="M4.500 16.500c-1.500 1.260-2 5-2 5s3.740-.5 5-2c.710-.840.700-2.130-.090-2.910a2.180 2.180 0 0 0-2.910-.090z"/><path d="m12 15-3-3a22 22 0 0 1 2-3.950A12.880 12.880 0 0 1 22 2c0 2.720-.780 7.500-6 11a22.350 22.350 0 0 1-4 2z"/><path d="M9 12H4s.550-3.030 2-4c1.620-1.080 5 0 5 0"/><path d="M12 15v5s3.030-.550 4-2c1.080-1.620 0-5 0-5"/></svg>
<span class="t" style="left:39.98px;top:245.70px;font-size:12px;line-height:14px;color:#78716c;font-weight:700;transform:scaleX(1.0556);">ERSTE SCHRITTE</span>
<span class="t" style="left:19.70px;top:271.20px;font-size:14px;line-height:16px;color:#57534e;transform:scaleX(1.0500);">1.</span>
<span class="t" style="left:37.71px;top:271.60px;font-size:14px;line-height:16px;color:#44403c;transform:scaleX(1.0587);">Prüfen Sie die KPI-Karten für</span>
<span class="t" style="left:38.10px;top:294.60px;font-size:14px;line-height:16px;color:#44403c;transform:scaleX(1.0661);">eine Schnellübersicht</span>
<span class="t" style="left:19.67px;top:325.20px;font-size:14px;line-height:16px;color:#57534e;transform:scaleX(1.0500);">2.</span>
<span class="t" style="left:41.60px;top:325.60px;font-size:14px;line-height:16px;color:#44403c;transform:scaleX(1.0553);">Analysieren Sie den Score-</span>
<span class="t" style="left:41.53px;top:348.00px;font-size:14px;line-height:16px;color:#44403c;transform:scaleX(1.0656);">Verlauf über die Zeit</span>
<span class="t" style="left:19.81px;top:378.20px;font-size:14px;line-height:16px;color:#57534e;transform:scaleX(1.0500);">3.</span>
<span class="t" style="left:40.61px;top:378.60px;font-size:14px;line-height:16px;color:#44403c;transform:scaleX(1.0612);">Exportieren Sie Berichte nach</span>
<span class="t" style="left:40.61px;top:401.50px;font-size:14px;line-height:16px;color:#44403c;transform:scaleX(1.0652);">Bedarf</span>
<div class="abs" style="left:20px;top:438px;width:239px;height:1px;background:#e7e5e0;border-radius:0px;"></div>
<svg class="ico abs" style="left:20px;top:456px;color:#78716c" width="14" height="14" viewBox="0 0 24 24" stroke-width="2"><path d="M15 14c.2-1 .7-1.700 1.500-2.500 1-.9 1.500-2.200 1.500-3.500A6 6 0 0 0 6 8c0 1 .2 2.200 1.500 3.500.7.700 1.300 1.500 1.500 2.500"/><path d="M9 18h6"/><path d="M10 22h4"/></svg>
<span class="t" style="left:40.67px;top:455.90px;font-size:12px;line-height:14px;color:#78716c;font-weight:700;transform:scaleX(1.0428);">TIPPS</span>
<svg class="ico abs" style="left:20px;top:481px;color:#78716c" width="14" height="14" viewBox="0 0 24 24" stroke-width="2"><path d="M15 14c.2-1 .7-1.700 1.500-2.500 1-.9 1.500-2.200 1.500-3.500A6 6 0 0 0 6 8c0 1 .2 2.200 1.500 3.500.7.700 1.300 1.500 1.500 2.500"/><path d="M9 18h6"/><path d="M10 22h4"/></svg>
<span class="t" style="left:42.30px;top:481.80px;font-size:14px;line-height:16px;color:#44403c;transform:scaleX(1.0641);">Teilen Sie den Compliance-</span>
<span class="t" style="left:41.61px;top:504.00px;font-size:14px;line-height:16px;color:#44403c;transform:scaleX(1.0592);">Report regelmäßig mit der</span>
<span class="t" style="left:41.85px;top:526.90px;font-size:14px;line-height:16px;color:#44403c;letter-spacing:0.015px;transform:scaleX(1.0700);">Geschäftsleitung</span>
<svg class="ico abs" style="left:20px;top:557px;color:#78716c" width="14" height="14" viewBox="0 0 24 24" stroke-width="2"><path d="M15 14c.2-1 .7-1.700 1.500-2.500 1-.9 1.500-2.200 1.500-3.500A6 6 0 0 0 6 8c0 1 .2 2.200 1.500 3.500.7.700 1.300 1.500 1.500 2.500"/><path d="M9 18h6"/><path d="M10 22h4"/></svg>
<span class="t" style="left:42.60px;top:557.90px;font-size:14px;line-height:16px;color:#44403c;transform:scaleX(1.0567);">Achten Sie auf abnehmende</span>
<span class="t" style="left:42.30px;top:580.70px;font-size:14px;line-height:16px;color:#44403c;transform:scaleX(1.0621);">Trends. sie zeigen</span>
<span class="t" style="left:41.60px;top:602.40px;font-size:14px;line-height:16px;color:#44403c;letter-spacing:0.037px;transform:scaleX(1.0700);">Handlungsbedarf</span>
<div class="abs" style="left:20px;top:639px;width:239px;height:1px;background:#e7e5e0;border-radius:0px;"></div>
<svg class="ico abs" style="left:20px;top:657px;color:#78716c" width="14" height="14" viewBox="0 0 24 24" stroke-width="2"><path d="M5 12h14"/><path d="m12 5 7 7-7 7"/></svg>
<span class="t" style="left:39.97px;top:656.80px;font-size:12px;line-height:14px;color:#78716c;font-weight:700;letter-spacing:0.017px;transform:scaleX(1.0700);">NÄCHSTE SCHRITTE</span>
<svg class="ico abs" style="left:20px;top:683px;color:#57534e" width="14" height="14" viewBox="0 0 24 24" stroke-width="2"><path d="m9 18 6-6-6-6"/></svg>
<span class="t" style="left:40.03px;top:681.50px;font-size:14px;line-height:16px;color:#1c1917;letter-spacing:0.172px;transform:scaleX(1.0700);-webkit-text-stroke:.35px #1c1917">Sicherheits-Check wiederholen</span>
<svg class="ico abs" style="left:20px;top:709px;color:#57534e" width="14" height="14" viewBox="0 0 24 24" stroke-width="2"><path d="m9 18 6-6-6-6"/></svg>
<span class="t" style="left:40.03px;top:707.20px;font-size:14px;line-height:16px;color:#1c1917;letter-spacing:0.040px;transform:scaleX(1.0700);-webkit-text-stroke:.35px #1c1917">Offene Maßnahmen prüfen</span>
</div>
</body>
</html>
